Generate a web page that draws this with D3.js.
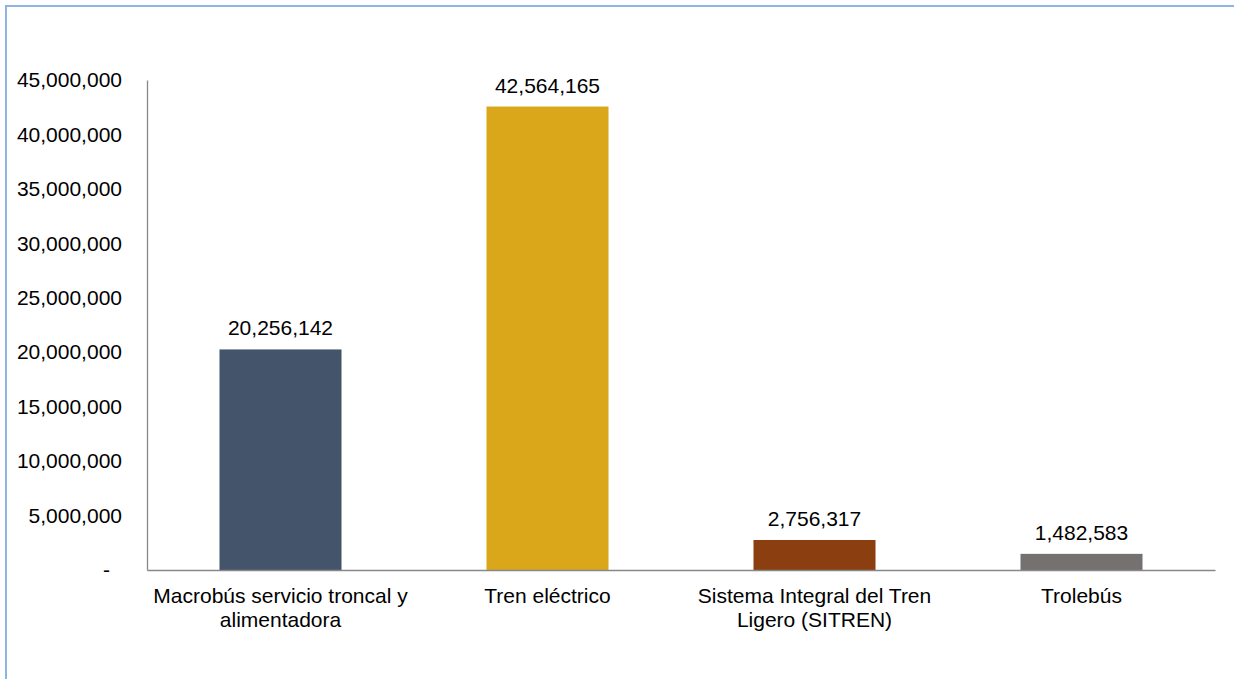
<!DOCTYPE html>
<html>
<head>
<meta charset="utf-8">
<script src="https://cdn.jsdelivr.net/npm/d3@7"></script>
<style>
    html, body { margin: 0; padding: 0; background: #fff; }
    svg text { font-family: "Liberation Sans", Arial, sans-serif; fill: #000; }
</style>
</head>
<body>
<div id="chart"></div>
<script>
// Chart data
const categories = [
    "Macrobús servicio troncal y\nalimentadora",
    "Tren eléctrico",
    "Sistema Integral del Tren\nLigero (SITREN)",
    "Trolebús"
];
const values = [20256142, 42564165, 2756317, 1482583];
const barColors = ["#44546a", "#daa71b", "#8b3e0f", "#767171"];
const yTicks = [0, 5000000, 10000000, 15000000, 20000000, 25000000, 30000000, 35000000, 40000000, 45000000];

const width = 1234, height = 679;
const margin = { left: 147, right: 19, top: 80, bottom: 109 };
const fontSize = 21;

const svg = d3.select('#chart')
    .append('svg')
    .attr('width', width)
    .attr('height', height);

// Outer frame
svg.append('rect')
    .attr('x', 6)
    .attr('y', 6)
    .attr('width', width + 20)
    .attr('height', height + 20)
    .attr('fill', 'none')
    .attr('stroke', '#8db4e2')
    .attr('stroke-width', 2);

const x = d3.scaleBand()
    .domain(categories)
    .range([margin.left, width - margin.right])
    .paddingInner(0.543)
    .paddingOuter(0.2715);

const y = d3.scaleLinear()
    .domain([0, 45000000])
    .range([height - margin.bottom, margin.top]);

const fmt = d3.format(',');

// Y axis
const yAxis = svg.append('g')
    .attr('transform', `translate(${margin.left},0)`)
    .call(d3.axisLeft(y)
        .tickValues(yTicks)
        .tickSize(0)
        .tickPadding(25)
        .tickFormat(d => d === 0 ? '-' : fmt(d)));
yAxis.select('.domain').attr('stroke', '#888').attr('stroke-width', 1.3);
yAxis.selectAll('text')
    .style('font-size', fontSize + 'px')
    .attr('fill', '#000');
yAxis.selectAll('.tick').filter(d => d === 0).select('text').attr('dx', -12);

// Bars
svg.selectAll('rect.bar')
    .data(values)
    .enter()
    .append('rect')
    .attr('class', 'bar')
    .attr('x', (d, i) => x(categories[i]))
    .attr('y', d => y(d))
    .attr('width', x.bandwidth())
    .attr('height', d => y(0) - y(d))
    .attr('fill', (d, i) => barColors[i]);

// Value labels
svg.selectAll('text.value')
    .data(values)
    .enter()
    .append('text')
    .attr('class', 'value')
    .attr('x', (d, i) => x(categories[i]) + x.bandwidth() / 2)
    .attr('y', d => y(d) - 14)
    .attr('text-anchor', 'middle')
    .style('font-size', fontSize + 'px')
    .text(d => fmt(d));

// X axis
const xAxis = svg.append('g')
    .attr('transform', `translate(0,${height - margin.bottom})`)
    .call(d3.axisBottom(x).tickSize(0).tickFormat(''));
xAxis.select('.domain').attr('stroke', '#888').attr('stroke-width', 1.3);

// Category labels (multi-line)
const catLabels = svg.selectAll('text.cat')
    .data(categories)
    .enter()
    .append('text')
    .attr('class', 'cat')
    .attr('text-anchor', 'middle')
    .attr('transform', d => `translate(${x(d) + x.bandwidth() / 2},${height - margin.bottom + 33})`)
    .style('font-size', fontSize + 'px');

catLabels.each(function(d) {
    const lines = d.split('\n');
    d3.select(this).selectAll('tspan')
        .data(lines)
        .enter()
        .append('tspan')
        .attr('x', 0)
        .attr('y', (l, i) => i * 24)
        .text(l => l);
});
</script>
</body>
</html>
